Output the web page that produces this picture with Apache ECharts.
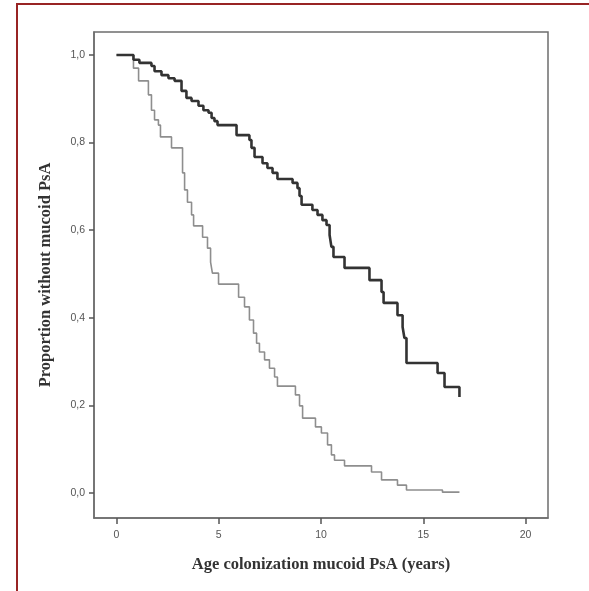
<!DOCTYPE html>
<html lang="en">
<head>
    <meta charset="UTF-8">
    <title>Age colonization mucoid PsA</title>
    <script src="https://cdn.jsdelivr.net/npm/echarts@6/dist/echarts.min.js"></script>
    <style>
        body { margin: 0; background: #fff; }
    </style>
</head>
<body>
<div id="main" style="width: 589px; height: 591px;"></div>
<script>
    // tick positions
    var xTicks = [0, 5, 10, 15, 20];
    var yTicks = [0, 0.2, 0.4, 0.6, 0.8, 1.0];

    // group 1 (thick dark line): [years, proportion] at each drop
    var darkCurve = [
        [0, 1.0], [0.83, 0.989], [1.12, 0.982], [1.71, 0.975], [1.86, 0.963],
        [2.20, 0.954], [2.54, 0.947], [2.84, 0.941], [3.18, 0.918], [3.42, 0.902],
        [3.67, 0.895], [4.01, 0.884], [4.25, 0.874], [4.50, 0.868], [4.65, 0.856],
        [4.79, 0.849], [4.94, 0.840], [5.87, 0.817], [6.50, 0.806], [6.60, 0.788],
        [6.75, 0.767], [7.14, 0.753], [7.38, 0.742], [7.63, 0.731], [7.87, 0.717],
        [8.61, 0.708], [8.85, 0.696], [8.95, 0.678], [9.05, 0.658], [9.58, 0.646],
        [9.83, 0.635], [10.07, 0.623], [10.27, 0.612], [10.42, 0.589], [10.51, 0.562],
        [10.61, 0.539], [11.15, 0.514], [12.37, 0.486], [12.96, 0.459], [13.06, 0.434],
        [13.74, 0.406], [13.99, 0.379], [14.08, 0.354], [14.18, 0.297], [15.70, 0.274],
        [16.04, 0.242], [16.77, 0.219]
    ];

    // group 2 (thin grey line)
    var greyCurve = [
        [0, 1.0], [0.83, 0.970], [1.08, 0.941], [1.56, 0.909], [1.71, 0.874],
        [1.86, 0.852], [2.05, 0.840], [2.15, 0.813], [2.69, 0.788], [3.23, 0.731],
        [3.33, 0.692], [3.47, 0.664], [3.67, 0.635], [3.77, 0.610], [4.21, 0.584],
        [4.45, 0.559], [4.60, 0.527], [4.69, 0.502], [4.99, 0.477], [5.97, 0.447],
        [6.26, 0.425], [6.50, 0.395], [6.70, 0.365], [6.85, 0.342], [6.99, 0.322],
        [7.24, 0.304], [7.48, 0.285], [7.73, 0.265], [7.87, 0.244], [8.75, 0.224],
        [8.95, 0.199], [9.10, 0.171], [9.73, 0.151], [10.02, 0.137], [10.32, 0.110],
        [10.51, 0.087], [10.66, 0.075], [11.15, 0.062], [12.47, 0.048], [12.96, 0.030],
        [13.74, 0.018], [14.18, 0.007], [15.94, 0.002], [16.77, 0.002]
    ];

    var myCharts = echarts.init(document.getElementById('main'));
    var option = {
        animation: false,
        backgroundColor: '#fff',
        graphic: [{
            type: 'rect',
            shape: { x: 17, y: 4, width: 700, height: 700 },
            style: { fill: 'none', stroke: '#982424', lineWidth: 2 }
        }],
        grid: {
            left: 94,
            top: 32,
            width: 454,
            height: 486,
            show: true,
            borderColor: '#6e6e6e',
            borderWidth: 1.5
        },
        xAxis: {
            type: 'value',
            min: -1.1,
            max: 21.1,
            name: 'Age colonization mucoid PsA (years)',
            nameLocation: 'middle',
            nameGap: 38,
            nameTextStyle: {
                fontFamily: 'Liberation Serif',
                fontWeight: 'bold',
                fontSize: 16.5,
                color: '#333'
            },
            splitLine: { show: false },
            axisLine: { onZero: false, lineStyle: { color: '#6e6e6e', width: 1.5 } },
            axisTick: {
                customValues: xTicks,
                length: 6,
                lineStyle: { color: '#555', width: 1.5 }
            },
            axisLabel: {
                customValues: xTicks,
                margin: 12,
                fontSize: 10.5,
                fontFamily: 'Liberation Sans',
                color: '#555'
            }
        },
        yAxis: {
            type: 'value',
            min: -0.057,
            max: 1.0525,
            name: 'Proportion without mucoid PsA',
            nameLocation: 'middle',
            nameGap: 40,
            nameTextStyle: {
                fontFamily: 'Liberation Serif',
                fontWeight: 'bold',
                fontSize: 16.5,
                color: '#333'
            },
            splitLine: { show: false },
            axisLine: { show: true, onZero: false, lineStyle: { color: '#6e6e6e', width: 1.5 } },
            axisTick: {
                show: true,
                customValues: yTicks,
                length: 5,
                lineStyle: { color: '#555', width: 1.5 }
            },
            axisLabel: {
                customValues: yTicks,
                margin: 9,
                fontSize: 10.5,
                fontFamily: 'Liberation Sans',
                color: '#555',
                formatter: function (v) {
                    return v.toFixed(1).replace('.', ',');
                }
            }
        },
        series: [
            {
                name: 'grey',
                type: 'line',
                step: 'end',
                data: greyCurve,
                showSymbol: false,
                lineStyle: { color: '#8e8e8e', width: 1.6 },
                z: 2
            },
            {
                name: 'dark',
                type: 'line',
                step: 'end',
                data: darkCurve,
                showSymbol: false,
                lineStyle: { color: '#333', width: 2.6 },
                z: 3
            }
        ]
    };
    myCharts.setOption(option);
</script>
</body>
</html>
